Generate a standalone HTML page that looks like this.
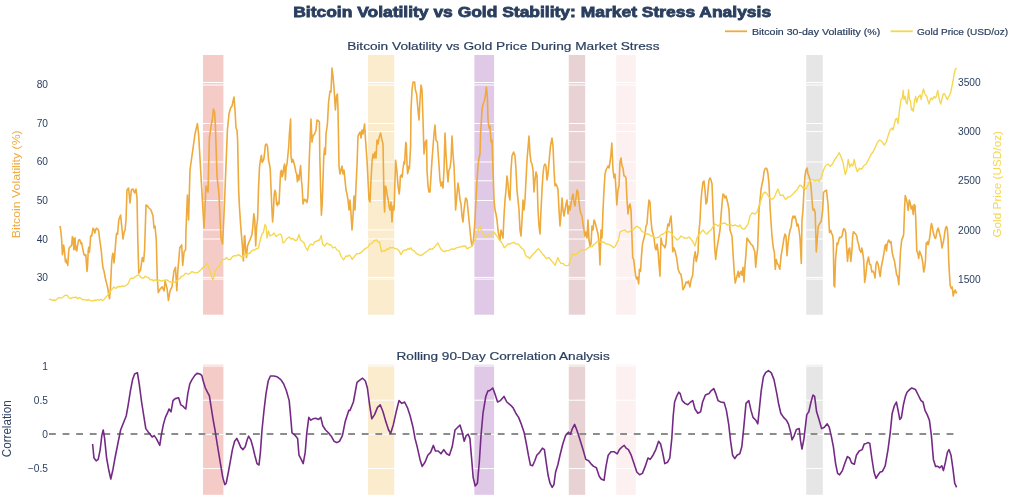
<!DOCTYPE html>
<html><head><meta charset="utf-8"><style>
html,body{margin:0;padding:0;background:#fff;overflow:hidden;}
svg{display:block;will-change:transform;}
</style></head><body>
<svg width="1024" height="500" viewBox="0 0 1024 500">
<rect x="0" y="0" width="1024" height="500" fill="#fff"/>
<rect x="203" y="55" width="20.4" height="259.7" fill="#F5CBC7"/>
<rect x="203" y="364.7" width="20.4" height="130.1" fill="#F5CBC7"/>
<rect x="368.0" y="55" width="26.2" height="259.7" fill="#FBECCD"/>
<rect x="368.0" y="364.7" width="26.2" height="130.1" fill="#FBECCD"/>
<rect x="474.4" y="55" width="19.7" height="259.7" fill="#DFC9E6"/>
<rect x="474.4" y="364.7" width="19.7" height="130.1" fill="#DFC9E6"/>
<rect x="568.8" y="55" width="16.4" height="259.7" fill="#E8D2D3"/>
<rect x="568.8" y="364.7" width="16.4" height="130.1" fill="#E8D2D3"/>
<rect x="616.2" y="55" width="19.6" height="259.7" fill="#FDF0F0"/>
<rect x="616.2" y="364.7" width="19.6" height="130.1" fill="#FDF0F0"/>
<rect x="806.2" y="55" width="16.6" height="259.7" fill="#E6E6E6"/>
<rect x="806.2" y="364.7" width="16.6" height="130.1" fill="#E6E6E6"/>
<line x1="49" x2="957" y1="85.0" y2="85.0" stroke="#fff" stroke-width="1"/>
<line x1="49" x2="957" y1="123.5" y2="123.5" stroke="#fff" stroke-width="1"/>
<line x1="49" x2="957" y1="162.0" y2="162.0" stroke="#fff" stroke-width="1"/>
<line x1="49" x2="957" y1="200.5" y2="200.5" stroke="#fff" stroke-width="1"/>
<line x1="49" x2="957" y1="239.0" y2="239.0" stroke="#fff" stroke-width="1"/>
<line x1="49" x2="957" y1="277.4" y2="277.4" stroke="#fff" stroke-width="1"/>
<line x1="49" x2="957" y1="82.5" y2="82.5" stroke="#fff" stroke-width="1"/>
<line x1="49" x2="957" y1="131.6" y2="131.6" stroke="#fff" stroke-width="1"/>
<line x1="49" x2="957" y1="180.8" y2="180.8" stroke="#fff" stroke-width="1"/>
<line x1="49" x2="957" y1="229.9" y2="229.9" stroke="#fff" stroke-width="1"/>
<line x1="49" x2="957" y1="279.1" y2="279.1" stroke="#fff" stroke-width="1"/>
<line x1="49" x2="957" y1="366" y2="366" stroke="#fff" stroke-width="1"/>
<line x1="49" x2="957" y1="400.2" y2="400.2" stroke="#fff" stroke-width="1"/>
<line x1="49" x2="957" y1="434.4" y2="434.4" stroke="#fff" stroke-width="1"/>
<line x1="49" x2="957" y1="468.6" y2="468.6" stroke="#fff" stroke-width="1"/>
<line x1="49" x2="957" y1="434.1" y2="434.1" stroke="#8c8c8c" stroke-width="2" stroke-dasharray="6.8,6.8"/>
<path d="M60.0,225.8L60.6,229.4L61.6,239.0L62.4,254.6L63.0,251.0L63.6,245.0L64.2,248.6L64.8,254.6L65.4,261.8L66.0,259.4L66.6,263.0L67.2,261.8L67.8,265.4L68.4,254.6L69.0,248.6L69.6,247.4L70.2,246.8L70.8,246.2L71.7,245.0L72.4,236.6L73.2,239.0L73.8,249.8L74.4,239.0L75.0,237.8L75.6,249.8L76.2,246.2L76.8,251.0L77.4,246.2L78.6,240.2L79.6,239.6L80.4,241.4L81.0,243.8L81.6,242.6L82.2,246.2L83.2,251.0L84.0,254.6L85.2,255.8L85.8,254.6L86.4,263.0L87.0,271.4L87.6,265.4L88.2,251.0L88.8,247.4L89.4,252.2L90.0,246.2L90.6,236.6L91.2,235.4L91.8,236.0L92.4,231.8L93.0,228.2L94.0,229.4L94.8,233.0L95.4,230.6L96.4,228.2L97.2,228.8L98.1,229.4L98.8,231.8L99.6,239.0L100.5,245.0L101.4,252.2L102.4,263.0L103.2,269.0L103.8,270.2L105.5,279.0L107.5,286.9L109.5,298.6L110.4,288.8L111.6,263.0L112.2,257.0L112.8,253.4L113.4,254.6L114.0,263.0L114.6,257.0L115.2,248.6L115.8,241.4L116.4,234.2L117.0,233.0L117.6,234.2L118.2,227.0L118.8,219.8L120.6,215.0L121.2,221.0L121.8,227.0L122.4,233.0L123.0,239.0L123.6,235.4L124.2,231.8L125.0,230.6L126.0,220.0L127.0,190.0L128.6,188.0L130.0,203.0L131.4,190.0L133.0,189.0L134.6,193.0L136.0,189.0L137.0,198.0L137.8,240.0L138.8,273.2L140.7,269.3L142.3,257.6L143.6,261.5L144.6,249.8L146.0,205.0L147.4,206.0L149.0,208.0L151.0,210.0L153.0,216.0L154.0,228.0L155.0,226.0L156.3,240.0L157.3,279.0L158.3,292.7L160.2,288.8L162.2,286.9L164.1,290.8L165.1,281.0L167.1,288.8L168.4,300.5L170.0,290.8L172.0,286.9L173.9,271.3L175.5,267.3L176.8,290.8L177.8,271.3L179.8,247.8L181.7,244.9L182.7,265.4L184.1,251.7L185.6,249.8L186.0,230.0L187.4,195.0L188.6,220.0L190.0,170.0L195.0,134.0L197.4,123.6L198.6,134.0L201.0,176.0L204.0,228.0L206.0,186.0L208.0,192.0L209.4,138.0L211.4,124.0L212.6,118.0L213.4,109.0L214.6,112.0L215.4,126.0L217.0,176.0L219.0,194.0L220.0,218.0L221.0,238.0L222.6,244.0L224.0,214.0L225.0,190.0L227.4,130.0L229.0,114.0L230.6,108.0L232.0,106.0L234.0,97.0L235.0,110.0L236.0,128.0L237.0,130.0L237.6,140.0L238.6,189.0L239.5,208.0L240.5,223.0L241.4,234.6L242.4,246.0L243.0,257.5L243.4,261.0L244.3,236.5L244.8,235.6L245.6,250.0L246.5,257.5L247.5,246.0L249.0,242.0L250.0,240.0L250.9,237.5L251.9,234.6L252.8,227.0L253.8,213.7L254.7,219.4L255.7,246.0L256.6,227.0L257.6,219.4L258.5,188.0L259.5,167.2L260.6,159.2L261.4,155.2L262.2,162.4L263.0,160.8L263.8,159.2L264.6,152.8L265.4,144.8L266.5,144.0L267.5,146.4L268.6,160.8L269.4,164.0L270.2,168.8L271.0,188.0L271.8,207.2L272.6,222.0L273.4,212.0L274.2,194.4L275.0,190.4L275.8,192.8L276.6,204.0L277.4,205.6L278.2,202.4L279.0,204.0L279.8,188.0L280.6,172.0L281.4,170.4L282.2,176.8L283.0,173.6L283.8,167.2L284.6,164.0L285.4,180.0L286.2,167.2L287.0,164.0L287.8,156.0L288.6,148.0L289.4,134.0L290.6,119.0L291.0,156.0L291.8,162.4L292.6,159.2L293.4,160.8L294.2,164.0L295.0,167.2L295.8,172.0L296.6,173.6L297.4,181.6L298.2,175.2L299.0,180.0L299.8,172.0L300.6,165.6L301.4,180.0L302.2,188.0L303.0,204.0L303.8,200.8L304.6,199.2L305.4,200.8L306.2,200.0L307.0,202.4L307.8,197.6L308.6,180.0L309.4,156.0L310.0,142.0L311.0,119.0L312.0,142.0L313.0,136.0L314.6,134.0L316.0,130.0L317.0,120.0L318.6,121.0L319.4,122.0L319.8,156.0L320.6,188.0L321.4,215.2L322.2,204.0L323.0,180.0L323.8,156.0L324.6,148.0L325.4,154.4L326.0,134.0L327.4,124.0L328.6,102.0L330.0,91.0L331.0,92.0L332.0,68.0L333.0,76.0L334.0,88.0L335.4,110.0L336.4,96.0L337.4,94.0L338.0,110.0L339.0,166.0L340.0,174.0L341.0,170.0L342.0,166.0L343.0,174.0L344.0,170.0L345.0,180.0L346.0,190.0L347.0,194.0L348.0,200.0L349.0,210.0L350.0,200.0L351.0,214.0L352.0,230.0L353.0,216.0L354.0,196.0L355.0,210.0L356.0,186.0L357.0,166.0L358.0,136.0L359.0,134.0L360.0,132.0L361.0,138.0L362.0,130.0L363.0,134.0L364.6,124.0L365.4,138.0L367.0,160.0L368.0,180.0L369.0,200.0L370.0,202.0L371.0,180.0L372.0,162.0L373.0,154.0L374.0,158.0L375.0,152.0L376.0,158.0L377.0,140.0L378.0,144.0L379.0,138.0L380.6,133.0L382.0,140.0L383.0,144.0L384.0,200.0L384.6,212.0L385.4,186.0L386.2,188.0L387.4,196.0L388.2,200.0L389.0,206.0L390.0,210.0L391.0,202.0L392.0,222.0L393.0,206.0L394.0,210.0L394.4,200.0L395.6,160.4L396.8,170.0L398.0,185.6L399.2,194.0L399.8,188.0L400.4,176.0L401.6,174.8L402.2,177.2L402.8,170.0L404.0,161.6L404.6,164.0L405.2,152.0L405.8,142.4L406.3,144.0L407.0,164.0L407.6,173.6L408.2,171.2L408.8,166.4L409.4,168.8L410.0,158.0L410.6,146.0L411.0,110.0L412.0,90.0L413.0,82.0L414.6,82.0L415.4,90.0L416.6,94.0L418.0,110.0L419.0,120.0L420.0,100.0L421.0,85.0L422.0,90.0L423.0,120.0L424.0,154.0L425.4,142.0L426.6,140.0L427.0,170.0L428.0,186.0L429.0,192.0L430.0,192.0L432.0,160.0L434.0,134.0L435.0,125.0L436.0,140.0L437.4,142.0L440.0,180.0L441.0,186.0L442.0,182.0L443.0,188.0L444.0,170.0L445.0,133.0L446.0,154.0L447.0,170.0L448.0,182.0L449.0,170.0L450.0,168.0L451.0,160.0L452.0,136.0L453.0,154.0L454.0,166.0L455.0,190.0L455.6,210.0L457.0,194.0L458.0,183.0L459.0,190.0L460.0,200.0L461.0,204.0L462.0,216.0L463.0,222.0L464.0,210.0L465.6,198.0L467.0,200.0L468.0,210.0L469.0,220.0L470.0,230.0L471.0,240.0L472.0,246.0L473.0,244.0L474.0,234.0L475.0,220.0L476.0,200.0L477.0,180.0L478.0,166.0L479.0,158.0L480.0,154.0L480.6,134.0L482.0,110.0L483.0,104.0L484.0,102.0L485.0,98.0L486.4,87.0L487.4,98.0L488.0,120.0L489.0,128.0L490.0,126.0L491.0,142.0L492.0,140.0L493.0,170.0L494.0,200.0L495.0,210.0L496.0,214.0L497.0,220.0L498.0,230.0L499.0,236.0L500.0,240.0L501.0,230.0L502.0,234.0L503.0,238.0L504.0,216.0L505.0,200.0L506.0,190.0L507.0,176.0L508.0,184.0L509.0,196.0L510.0,200.0L511.0,170.0L512.0,156.0L513.6,152.0L515.0,156.0L516.0,170.0L517.0,190.0L518.0,200.0L519.0,210.0L520.0,230.0L521.0,236.0L522.0,220.0L523.0,200.0L524.0,210.0L525.0,200.0L526.0,180.0L527.0,160.0L529.0,136.0L530.0,154.0L531.0,162.0L532.0,164.0L533.0,170.0L534.0,192.0L535.0,180.0L536.0,172.0L537.0,176.0L538.0,210.0L539.0,226.0L540.0,234.0L541.0,210.0L542.0,190.0L543.0,174.0L544.0,166.0L545.0,164.0L546.0,166.0L547.0,180.0L548.0,174.0L549.0,162.0L550.5,146.0L552.0,138.0L553.0,146.0L554.0,170.0L555.0,186.0L556.0,184.0L557.0,186.0L558.0,190.0L559.0,210.0L560.0,226.0L561.0,214.0L562.0,198.0L563.0,210.0L564.0,216.0L565.0,210.0L566.0,204.0L567.0,200.0L568.0,214.0L569.0,206.0L570.0,210.0L571.0,204.0L572.0,198.0L573.0,194.0L574.0,202.0L575.0,206.0L576.0,198.0L577.0,190.0L578.0,192.0L579.0,202.0L580.0,210.0L581.0,214.0L582.0,216.0L583.0,224.0L584.0,230.0L585.0,236.0L586.0,232.0L587.0,238.0L588.0,220.0L589.0,240.0L590.0,246.0L591.0,244.0L592.0,226.0L593.0,230.0L594.0,220.0L595.0,222.0L596.0,226.0L597.0,230.0L598.0,234.0L599.0,242.0L600.0,265.0L601.0,230.0L602.0,238.0L603.0,210.0L604.0,190.0L605.0,174.0L606.0,170.0L607.0,168.0L608.0,166.0L609.0,168.0L610.0,162.0L611.0,154.0L611.8,143.0L613.0,170.0L614.0,178.0L615.0,174.0L616.0,190.0L616.8,205.0L618.0,190.0L619.0,186.0L620.0,162.0L621.0,158.0L622.0,166.0L623.0,168.0L624.0,176.0L625.0,176.0L626.0,178.0L627.0,200.0L628.0,214.0L629.0,206.0L630.0,204.0L631.0,210.0L632.7,257.6L633.7,259.5L634.6,267.3L635.6,275.2L636.6,279.0L637.6,277.1L638.6,284.0L639.5,269.3L640.5,271.3L641.5,255.6L642.5,244.0L645.0,234.0L646.0,226.0L647.0,224.0L648.0,210.0L649.0,200.0L650.0,202.0L651.0,220.0L652.0,230.0L653.0,234.0L654.0,238.0L655.2,247.8L656.1,249.8L657.1,244.0L658.1,251.7L659.1,265.4L660.0,276.1L661.0,238.0L662.0,244.0L663.9,245.9L664.9,247.8L665.9,244.0L667.0,230.0L668.0,224.0L669.0,226.0L670.0,220.0L671.0,216.0L672.0,230.0L672.7,251.7L673.7,247.8L674.7,249.8L676.6,257.6L678.2,269.3L679.6,273.2L680.9,274.2L682.1,281.0L682.9,289.8L684.5,286.9L686.0,282.0L687.4,283.0L688.4,281.0L689.9,286.9L691.3,279.0L692.7,275.2L693.8,259.5L695.2,251.7L696.2,261.5L697.1,257.6L698.1,251.7L698.6,236.0L700.0,220.0L701.0,200.0L702.0,190.0L703.0,182.0L704.0,181.0L705.0,190.0L706.0,204.0L707.0,202.0L708.0,190.0L709.0,180.0L710.0,178.0L711.0,180.0L712.0,184.0L713.0,210.0L714.7,247.8L715.7,259.5L716.7,249.8L717.7,244.0L720.0,230.0L721.0,216.0L722.0,204.0L723.0,194.0L724.0,195.0L725.0,198.0L726.0,196.0L727.0,200.0L728.0,204.0L729.0,210.0L730.0,230.0L732.0,236.0L733.3,257.6L734.3,273.2L735.2,283.0L736.2,279.0L737.2,275.2L738.2,271.3L739.1,277.1L740.1,273.2L741.1,271.3L742.1,275.2L743.0,267.3L744.0,282.0L745.0,265.4L746.0,253.7L747.0,238.0L750.9,244.0L752.8,245.9L754.8,251.7L755.7,267.3L756.7,255.6L757.7,247.8L759.0,210.0L760.0,200.0L761.0,190.0L762.0,184.0L763.0,180.0L764.0,172.0L765.0,169.0L766.0,168.0L767.0,169.0L768.0,174.0L769.0,184.0L770.0,206.0L771.0,222.0L772.0,236.0L773.3,247.8L774.3,251.7L775.3,269.3L776.3,259.5L777.2,263.4L778.6,265.4L779.8,269.3L781.1,255.6L782.1,249.8L784.0,238.0L785.0,234.0L786.0,236.0L787.0,255.6L788.0,244.0L789.0,236.0L790.0,230.0L791.0,228.0L792.0,220.0L793.0,216.0L794.0,218.0L795.0,216.0L796.0,220.0L797.0,226.0L798.0,224.0L799.0,230.0L800.0,238.0L801.3,263.4L802.0,220.0L803.0,210.0L804.0,190.0L805.0,176.0L806.0,170.0L807.0,168.0L808.0,174.0L809.0,176.0L810.7,183.5L811.5,192.5L812.2,202.5L813.0,210.0L814.2,209.2L815.2,213.0L816.3,252.0L817.2,240.0L818.2,226.5L819.7,223.5L821.2,221.2L822.7,210.0L823.5,192.5L825.0,191.0L826.5,190.2L827.2,197.0L828.0,204.0L828.7,217.5L829.5,232.5L830.2,230.2L831.0,231.0L831.7,234.0L832.5,234.7L833.2,240.0L834.0,285.5L834.7,287.0L835.5,260.0L836.2,252.5L837.0,243.0L837.7,244.5L838.5,241.5L839.2,238.5L840.0,237.0L840.7,237.7L841.5,237.0L842.2,235.5L843.0,231.0L843.7,228.7L844.8,229.5L845.7,232.5L847.5,261.5L848.7,249.5L849.7,248.0L850.8,261.5L852.0,249.5L852.7,235.5L853.5,231.7L854.7,233.2L855.7,234.0L856.8,236.2L857.7,241.5L858.7,244.5L859.5,249.5L861.0,252.5L861.7,248.0L862.5,251.0L863.7,260.0L864.7,282.5L865.8,275.0L867.0,263.0L868.5,257.0L869.7,264.5L870.7,264.5L871.8,272.0L873.0,271.2L874.2,273.5L875.0,278.0L876.0,264.5L877.0,261.5L878.2,264.5L879.3,272.0L880.2,276.5L881.2,267.5L882.7,260.0L883.8,254.0L885.0,246.0L885.7,244.5L886.5,251.0L887.2,244.5L888.0,241.5L888.7,240.0L889.5,241.5L890.2,243.0L891.0,241.5L892.2,252.5L893.2,257.0L894.3,260.0L895.5,267.5L896.7,275.0L897.7,276.5L898.8,284.7L899.7,267.5L900.4,252.5L901.5,241.5L902.2,238.5L903.0,237.0L903.7,234.0L904.5,210.0L905.2,195.5L906.0,198.0L907.2,203.0L908.2,210.5L909.3,200.0L910.2,203.0L911.2,209.0L912.3,206.0L913.2,214.5L914.2,204.5L915.0,205.5L915.7,217.5L916.8,251.0L918.0,254.0L918.7,258.5L919.5,251.0L920.7,254.0L921.7,257.0L922.8,263.0L923.7,272.0L924.7,267.5L925.5,260.0L926.2,243.0L927.0,244.5L927.7,241.5L928.5,244.5L929.2,240.0L930.0,235.5L930.7,228.0L931.5,223.5L932.2,226.5L933.0,231.0L933.7,234.0L934.5,237.0L935.2,238.5L936.0,237.0L936.7,232.5L937.5,229.5L938.2,228.0L939.0,231.0L939.7,234.0L940.5,237.0L941.2,241.5L942.0,248.0L942.7,244.5L943.5,241.5L944.2,237.0L945.0,231.0L945.7,228.0L946.5,226.5L947.2,228.0L948.0,237.0L948.7,260.0L949.5,275.0L950.2,285.5L951.3,288.5L952.2,287.0L953.2,296.0L954.3,291.5L955.2,290.0L956.2,293.0L956.7,291.5" fill="none" stroke="#EEAA3C" stroke-width="1.6" stroke-linejoin="round"/>
<path d="M48.9,299.6L50.4,299.2L51.8,300.2L53.3,300.0L54.8,300.5L56.8,299.3L58.7,297.6L60.7,297.9L62.6,297.6L64.2,295.9L65.9,295.2L67.5,295.7L69.0,298.0L70.4,298.6L72.3,297.5L74.3,297.6L75.9,297.0L77.6,298.8L79.2,297.6L80.8,298.2L82.5,299.7L84.1,299.6L85.5,299.8L87.0,300.4L88.5,299.4L89.9,300.5L91.5,300.6L93.0,301.0L94.6,300.0L96.1,300.4L97.7,299.6L99.3,300.3L101.0,299.2L102.6,300.5L104.0,299.7L105.5,297.6L107.5,295.4L109.5,292.7L111.0,290.3L112.4,288.8L114.0,287.0L115.7,288.4L117.3,286.9L118.9,286.5L120.5,286.8L122.1,285.9L123.7,286.5L125.4,285.7L127.0,284.9L128.5,283.0L130.0,279.0L131.6,278.1L133.2,278.5L134.8,277.1L136.6,275.8L138.4,274.8L140.7,277.1L142.2,278.1L143.6,278.0L145.1,276.1L146.6,277.1L148.6,277.7L150.5,280.0L151.9,279.3L153.4,281.1L154.9,279.8L156.3,280.0L157.8,280.6L159.2,280.0L160.7,280.8L162.2,281.0L163.8,280.4L165.5,280.0L167.1,280.0L168.6,281.2L170.0,282.0L171.9,282.2L173.9,282.0L175.9,282.0L177.8,280.0L179.8,278.5L181.7,276.1L183.6,275.7L185.6,273.2L187.2,273.9L188.7,274.0L190.3,273.0L191.8,271.6L193.4,272.2L194.9,272.8L196.4,272.9L197.8,272.5L199.3,271.3L201.2,269.5L203.2,267.3L205.1,265.9L207.1,263.4L208.6,266.7L210.0,271.3L211.5,276.4L213.0,280.0L214.4,274.8L215.9,269.3L217.9,266.8L219.8,265.4L221.2,261.4L222.7,259.5L224.6,259.4L226.6,257.6L228.6,259.7L230.5,259.5L232.5,256.6L234.5,255.6L236.4,255.8L238.4,254.6L240.4,255.9L242.3,257.6L245.0,253.7L246.7,255.6L248.3,253.5L250.0,253.0L251.5,251.0L253.0,250.0L254.5,250.1L256.0,249.0L258.5,248.0L260.0,241.0L262.0,234.0L263.5,232.0L265.0,224.5L266.0,226.0L267.0,238.0L268.5,231.0L270.0,236.0L272.0,235.0L274.0,233.0L276.0,236.5L278.0,235.0L280.0,234.0L281.5,235.0L283.0,243.0L284.5,242.0L286.5,239.0L289.0,237.0L291.0,239.0L293.0,238.5L295.0,240.5L297.0,240.0L299.0,234.5L300.5,240.0L302.0,241.0L304.0,243.0L305.5,247.0L307.5,250.5L309.0,246.0L311.0,244.0L313.0,245.0L314.5,242.0L317.0,241.0L319.5,240.0L321.2,235.5L322.5,244.0L324.5,246.0L327.0,243.0L329.0,244.5L331.0,245.0L333.0,248.0L335.0,247.0L337.0,250.0L339.0,251.0L341.0,256.0L343.5,260.0L346.0,256.0L347.5,256.4L349.0,255.0L350.6,256.2L352.2,259.5L353.6,257.8L355.1,255.6L357.1,253.6L359.0,253.7L360.9,252.7L362.9,250.7L364.9,248.8L366.8,247.8L368.3,246.8L369.8,243.9L371.8,243.6L373.7,241.0L375.1,240.5L376.6,240.0L378.1,242.2L379.5,242.0L381.5,251.7L383.4,250.7L385.4,250.7L386.9,249.0L388.4,249.5L389.8,247.4L391.3,247.8L392.8,247.3L394.2,248.1L395.7,248.8L397.1,248.8L399.1,250.9L401.0,254.6L402.9,251.1L404.9,249.8L406.4,250.2L407.9,248.4L409.3,249.4L410.8,247.8L412.2,250.2L413.7,250.5L415.2,252.1L416.6,253.7L418.6,254.7L420.5,255.6L422.0,255.0L423.4,253.9L424.9,252.8L426.4,251.7L428.2,250.5L430.0,248.8L431.9,249.4L433.9,247.8L435.9,245.4L437.8,242.9L439.2,245.7L440.7,248.8L442.6,250.8L444.6,251.7L446.6,250.6L448.6,250.7L450.6,249.3L452.5,248.8L454.4,249.4L456.4,247.8L458.4,247.4L460.3,246.8L462.2,246.5L464.2,245.9L465.6,246.2L467.1,248.8L469.1,247.6L471.0,246.8L473.0,243.9L475.0,240.1L477.0,236.0L478.5,229.8L480.0,226.0L482.0,232.0L483.5,234.3L485.0,236.0L486.7,236.3L488.3,234.9L490.0,236.0L492.0,234.3L494.0,232.0L496.0,234.9L498.0,238.0L499.6,240.4L501.3,242.0L502.8,244.5L504.2,247.8L506.1,246.3L508.1,243.9L510.1,244.0L512.0,242.9L514.0,242.3L515.9,243.9L517.8,243.8L519.8,245.9L521.8,248.3L523.8,249.8L525.2,254.3L526.7,256.6L528.2,257.0L529.6,258.6L531.5,256.0L533.5,253.7L535.1,252.3L536.8,250.0L538.4,248.8L540.3,250.9L542.3,253.7L544.2,255.7L546.2,258.6L547.7,257.8L549.1,257.6L550.6,259.8L552.1,261.5L553.5,263.0L555.0,265.4L556.5,261.2L557.9,257.6L559.4,261.2L560.9,263.4L562.8,263.3L564.8,265.4L566.8,265.6L568.7,265.4L570.6,259.5L572.6,253.7L574.5,254.7L576.5,254.6L578.5,252.2L580.4,250.7L582.3,249.6L584.3,249.8L586.2,249.5L588.2,247.8L590.2,246.7L592.1,246.8L593.5,244.6L595.0,243.9L596.5,242.3L598.0,241.0L600.0,242.0L601.9,242.0L603.8,242.0L605.8,243.9L607.8,244.0L609.7,244.9L611.7,246.0L613.6,247.8L615.0,246.7L616.5,243.9L618.5,240.0L620.0,232.0L622.0,230.9L624.0,230.0L625.0,230.0L627.0,231.9L629.0,232.0L631.0,230.2L633.0,230.0L635.0,227.6L637.0,226.0L638.5,227.4L640.0,228.0L641.5,230.9L643.0,232.0L645.0,232.9L647.0,234.0L649.0,234.3L651.0,236.0L653.0,236.1L655.0,238.0L657.0,237.6L659.0,237.0L661.0,234.8L663.0,234.0L665.0,232.7L667.0,230.0L668.5,231.8L670.0,232.0L671.5,233.2L673.0,236.0L675.0,237.5L677.0,240.0L679.0,238.7L681.0,236.0L683.0,237.3L685.0,238.0L687.0,238.2L689.0,237.0L691.0,239.1L693.0,242.0L695.0,246.0L697.0,238.0L698.5,235.1L700.0,234.0L701.5,231.5L703.0,230.0L705.0,232.7L707.0,234.0L709.0,231.5L711.0,230.0L713.0,226.6L715.0,224.0L716.5,224.8L718.0,226.0L719.5,224.8L721.0,224.0L723.0,223.3L725.0,223.0L727.0,225.0L729.0,225.0L731.0,224.7L733.0,226.0L735.0,224.8L737.0,226.0L738.5,226.6L740.0,225.0L741.5,227.9L743.0,229.0L744.5,229.2L746.0,227.0L748.0,224.0L750.0,216.0L752.0,213.0L753.5,213.3L755.0,214.0L757.0,212.0L759.0,206.0L761.0,200.0L763.0,194.0L765.0,192.0L767.0,194.0L769.0,197.0L770.5,199.1L772.0,199.0L773.5,198.5L775.0,196.0L776.5,191.8L778.0,189.0L780.0,195.0L781.5,195.6L783.0,195.0L785.0,199.0L786.5,198.8L788.0,197.0L789.5,196.9L791.0,196.0L792.5,194.5L794.0,193.0L795.5,191.0L797.0,190.0L798.5,187.1L800.0,185.0L801.5,185.8L803.0,188.0L804.5,187.5L806.0,189.0L808.0,185.0L810.0,180.5L811.5,179.6L813.0,179.7L814.5,180.8L816.0,180.5L817.5,179.8L819.0,181.2L821.2,177.5L823.5,170.0L825.7,165.5L828.0,164.0L830.2,166.2L832.5,164.0L834.7,159.5L837.0,156.5L839.2,152.7L841.5,158.0L843.0,162.5L845.2,174.5L846.7,170.0L848.2,159.5L849.7,167.0L851.2,164.0L852.7,166.2L854.2,159.5L855.7,167.0L857.2,171.5L859.5,168.5L861.7,169.2L864.0,165.5L866.2,164.0L868.5,159.5L870.7,155.0L873.0,152.0L875.2,147.5L877.5,142.2L879.7,140.0L882.0,141.5L884.2,145.2L886.5,141.5L888.0,136.0L890.0,130.0L892.0,128.0L893.0,130.0L894.2,125.0L895.7,119.0L896.8,118.2L898.0,123.5L899.5,110.0L901.0,99.5L902.2,98.0L903.2,90.5L904.0,99.5L905.2,96.5L906.2,102.5L907.3,104.0L908.5,89.7L909.5,99.5L910.4,101.0L911.5,110.0L912.2,108.5L913.3,111.5L914.5,101.0L915.7,96.5L916.7,102.5L917.8,98.0L919.0,96.5L920.2,95.0L921.2,99.5L922.3,93.5L923.5,89.0L924.7,93.5L925.7,95.0L926.8,96.5L928.0,101.0L929.2,104.0L930.2,99.5L931.3,98.0L932.5,99.5L934.0,96.5L935.5,98.0L936.7,95.0L937.7,90.5L938.5,95.0L939.7,101.0L940.7,104.0L941.8,99.5L943.0,95.0L944.2,93.5L945.2,95.0L946.3,98.0L947.5,99.5L948.7,96.5L949.7,95.0L950.8,92.0L952.0,86.0L953.2,80.0L954.2,74.0L955.3,69.5L956.5,68.0" fill="none" stroke="#F5D64C" stroke-width="1.35" stroke-linejoin="round"/>
<path d="M92.6,444.0L94.0,458.0L96.2,460.8L98.2,459.4L100.2,449.6L101.8,435.6L103.2,430.0L104.6,438.4L106.6,458.0L108.6,469.2L110.8,479.0L113.0,469.2L115.0,458.0L117.8,444.0L120.6,430.0L123.4,423.0L126.2,416.0L128.2,404.8L130.4,390.8L132.6,379.6L134.6,374.0L137.4,372.6L139.4,385.2L141.6,402.0L143.8,416.0L145.8,428.6L147.8,431.4L150.0,434.2L152.2,437.0L154.2,435.6L156.2,438.4L158.4,442.6L159.8,445.4L161.2,435.6L163.4,424.4L165.4,417.4L167.4,413.2L169.0,409.0L171.0,411.8L173.0,400.6L175.2,398.6L178.6,397.8L180.8,404.8L183.0,406.2L184.2,407.6L185.8,409.0L187.8,393.6L189.8,383.8L192.0,379.6L194.8,375.4L197.0,373.4L199.9,374.0L201.8,375.4L203.2,381.0L205.4,388.0L207.4,392.2L209.4,395.8L211.0,406.2L213.0,418.8L215.0,430.0L217.2,444.0L220.0,460.8L222.8,477.6L224.8,484.6L226.2,483.2L228.4,472.0L230.4,460.8L232.4,449.6L234.6,441.2L236.8,438.4L238.8,442.6L240.8,447.4L243.0,449.6L245.2,446.8L247.2,439.8L248.6,436.2L250.8,439.8L252.8,446.8L254.8,455.2L257.0,463.6L259.0,465.0L260.4,452.4L262.0,430.0L264.0,410.4L266.0,393.6L268.2,381.0L270.4,376.0L273.8,376.0L277.2,376.8L280.8,379.6L283.6,383.8L286.4,390.8L289.2,400.6L290.6,416.0L292.0,432.8L294.8,435.0L297.6,438.4L299.0,455.2L301.2,459.4L303.2,463.6L305.2,452.4L306.8,432.8L308.8,417.4L310.8,420.2L313.0,418.8L315.8,418.2L318.6,419.4L320.8,417.4L322.8,425.8L325.6,430.0L328.4,432.8L331.2,436.2L334.0,441.2L336.8,442.6L339.6,441.2L342.4,435.6L345.2,421.6L348.8,410.4L350.0,410.4L353.4,402.0L357.0,382.4L359.8,380.2L362.6,378.2L365.4,381.0L367.4,388.0L369.6,404.8L371.8,418.8L374.6,414.6L377.4,407.6L380.2,404.8L383.0,411.8L385.8,421.6L388.6,430.0L390.6,433.4L393.4,424.4L396.2,411.8L399.0,400.6L401.8,403.4L404.6,402.0L407.4,407.6L410.2,416.0L413.0,427.2L415.0,438.4L417.2,446.8L420.0,459.4L422.2,466.4L425.0,462.2L427.8,455.2L430.6,452.4L433.4,445.4L435.4,451.0L438.2,451.0L441.0,453.8L443.8,449.6L446.6,453.8L449.4,455.2L452.2,446.8L455.0,430.0L457.8,427.2L460.0,425.0L462.0,431.4L464.2,441.2L466.2,435.6L468.2,434.2L469.9,438.4L471.8,460.8L473.2,477.6L475.2,486.0L477.4,483.2L479.4,460.8L481.0,435.6L483.0,413.2L485.8,396.4L488.0,390.8L489.2,390.8L491.2,389.4L492.8,388.0L494.8,393.6L497.6,402.0L500.4,400.6L504.0,396.4L506.8,402.0L510.2,404.8L513.0,407.6L515.8,413.2L518.6,417.4L521.4,424.4L524.2,432.8L526.4,444.0L528.4,455.2L530.4,465.0L532.6,465.8L534.8,460.8L536.8,455.2L539.6,452.4L542.4,448.2L544.4,449.6L546.0,460.8L548.0,474.8L550.0,483.2L552.2,487.4L553.9,484.6L555.6,472.0L557.8,465.0L560.0,455.2L562.8,444.0L565.6,435.6L568.4,432.2L570.4,434.2L572.4,428.6L574.6,424.4L576.8,430.0L579.6,438.4L583.0,449.6L585.8,459.4L588.6,460.8L590.8,463.6L593.6,466.4L596.4,467.8L599.2,476.2L601.2,479.0L604.0,480.4L606.0,466.4L608.2,455.2L611.0,451.8L614.4,451.8L617.2,453.8L619.4,449.6L622.2,446.8L624.2,445.4L626.2,448.2L628.4,449.6L631.2,455.2L634.0,463.6L636.8,472.0L639.6,474.8L642.4,473.4L645.2,466.4L648.0,458.0L650.2,459.4L653.0,455.2L655.8,449.6L658.6,441.2L660.6,444.0L662.6,452.4L664.8,463.6L667.6,462.2L669.8,458.0L671.8,438.4L673.2,416.0L674.6,402.0L676.6,396.4L678.8,392.2L680.2,393.6L682.2,400.6L685.0,403.4L687.8,404.8L690.6,402.0L692.8,400.6L695.0,409.0L697.8,413.2L700.6,411.8L702.6,402.0L705.4,395.0L709.0,393.6L711.0,390.8L713.8,388.6L715.8,393.6L718.0,400.6L720.8,402.0L724.2,402.6L726.4,410.4L728.7,424.4L730.6,441.2L732.6,455.2L734.8,458.6L737.0,455.2L739.8,453.8L741.8,446.8L743.8,427.2L746.0,403.4L748.8,400.6L751.0,410.4L753.0,417.4L755.8,420.2L757.8,423.8L759.2,410.4L761.2,390.8L763.4,376.8L765.6,372.6L768.4,370.6L771.2,372.6L774.0,379.6L776.8,393.6L778.8,404.8L780.8,413.2L783.6,417.4L786.4,420.2L788.6,424.4L790.8,432.8L792.0,439.8L794.2,435.6L796.4,429.4L799.2,428.6L800.6,441.2L802.0,449.0L804.0,438.4L806.8,414.6L808.8,411.8L811.0,402.0L813.0,395.0L814.6,396.4L816.6,411.8L818.8,418.8L821.6,428.6L824.4,427.2L827.2,423.8L829.2,427.2L831.2,435.6L833.4,446.8L835.6,463.6L837.6,473.4L839.6,474.8L842.4,470.6L845.2,462.2L847.4,456.6L849.6,458.0L851.6,463.0L854.4,464.2L856.4,455.2L859.2,451.0L862.2,449.6L864.2,444.0L866.2,443.4L867.8,442.6L869.8,443.4L871.8,458.0L874.0,472.0L876.0,478.2L878.2,474.8L880.2,472.0L882.4,471.4L885.2,465.8L888.0,449.6L890.2,432.8L892.2,413.2L894.2,406.2L896.4,402.0L898.1,410.4L899.8,419.4L901.4,417.4L903.4,404.8L905.4,396.4L907.0,392.2L909.8,389.4L911.8,388.0L915.4,389.4L918.2,395.0L921.0,400.6L923.0,402.0L925.0,410.4L927.2,414.6L929.4,420.2L931.4,435.6L933.4,459.4L935.6,466.4L937.8,466.4L939.8,467.8L941.8,465.8L943.4,470.6L945.4,462.2L947.4,452.4L949.0,449.6L951.0,455.2L953.0,469.2L954.7,483.2L956.6,487.4" fill="none" stroke="#742A85" stroke-width="1.6" stroke-linejoin="round"/>
<text x="293.2" y="16.8" font-family="Liberation Sans, sans-serif" font-size="15" fill="#2a3f5f" text-anchor="start" font-weight="bold" textLength="477.9" lengthAdjust="spacingAndGlyphs" stroke="#2a3f5f" stroke-width="0.8">Bitcoin Volatility vs Gold Stability: Market Stress Analysis</text>
<text x="347.2" y="49.8" font-family="Liberation Sans, sans-serif" font-size="11.3" fill="#2a3f5f" text-anchor="start" textLength="312.3" lengthAdjust="spacingAndGlyphs" stroke="#2a3f5f" stroke-width="0.2">Bitcoin Volatility vs Gold Price During Market Stress</text>
<text x="396.5" y="359.6" font-family="Liberation Sans, sans-serif" font-size="11.3" fill="#2a3f5f" text-anchor="start" textLength="213.2" lengthAdjust="spacingAndGlyphs" stroke="#2a3f5f" stroke-width="0.2">Rolling 90-Day Correlation Analysis</text>
<line x1="725" x2="747" y1="31.3" y2="31.3" stroke="#EEAA3C" stroke-width="1.8"/>
<text x="751.9" y="34.8" font-family="Liberation Sans, sans-serif" font-size="9.1" fill="#2a3f5f" text-anchor="start" textLength="128.4" lengthAdjust="spacingAndGlyphs" stroke="#2a3f5f" stroke-width="0.2">Bitcoin 30-day Volatility (%)</text>
<line x1="890.5" x2="912.8" y1="31.3" y2="31.3" stroke="#F5D64C" stroke-width="1.8"/>
<text x="917" y="34.8" font-family="Liberation Sans, sans-serif" font-size="9.1" fill="#2a3f5f" text-anchor="start" textLength="91.1" lengthAdjust="spacingAndGlyphs" stroke="#2a3f5f" stroke-width="0.2">Gold Price (USD/oz)</text>
<text x="48" y="88.0" font-family="Liberation Sans, sans-serif" font-size="10.2" fill="#2a3f5f" text-anchor="end" stroke="none">80</text>
<text x="48" y="126.7" font-family="Liberation Sans, sans-serif" font-size="10.2" fill="#2a3f5f" text-anchor="end" stroke="none">70</text>
<text x="48" y="165.3" font-family="Liberation Sans, sans-serif" font-size="10.2" fill="#2a3f5f" text-anchor="end" stroke="none">60</text>
<text x="48" y="204.0" font-family="Liberation Sans, sans-serif" font-size="10.2" fill="#2a3f5f" text-anchor="end" stroke="none">50</text>
<text x="48" y="242.7" font-family="Liberation Sans, sans-serif" font-size="10.2" fill="#2a3f5f" text-anchor="end" stroke="none">40</text>
<text x="48" y="281.4" font-family="Liberation Sans, sans-serif" font-size="10.2" fill="#2a3f5f" text-anchor="end" stroke="none">30</text>
<text x="958" y="85.9" font-family="Liberation Sans, sans-serif" font-size="10.2" fill="#2a3f5f" text-anchor="start" stroke="none">3500</text>
<text x="958" y="135.1" font-family="Liberation Sans, sans-serif" font-size="10.2" fill="#2a3f5f" text-anchor="start" stroke="none">3000</text>
<text x="958" y="184.3" font-family="Liberation Sans, sans-serif" font-size="10.2" fill="#2a3f5f" text-anchor="start" stroke="none">2500</text>
<text x="958" y="233.5" font-family="Liberation Sans, sans-serif" font-size="10.2" fill="#2a3f5f" text-anchor="start" stroke="none">2000</text>
<text x="958" y="282.7" font-family="Liberation Sans, sans-serif" font-size="10.2" fill="#2a3f5f" text-anchor="start" stroke="none">1500</text>
<text x="48" y="369.6" font-family="Liberation Sans, sans-serif" font-size="10.2" fill="#2a3f5f" text-anchor="end" stroke="none">1</text>
<text x="48" y="403.8" font-family="Liberation Sans, sans-serif" font-size="10.2" fill="#2a3f5f" text-anchor="end" stroke="none">0.5</text>
<text x="48" y="438.0" font-family="Liberation Sans, sans-serif" font-size="10.2" fill="#2a3f5f" text-anchor="end" stroke="none">0</text>
<text x="48" y="472.2" font-family="Liberation Sans, sans-serif" font-size="10.2" fill="#2a3f5f" text-anchor="end" stroke="none">−0.5</text>
<text transform="translate(20.4,184.3) rotate(-90)" font-family="Liberation Sans, sans-serif" font-size="10.6" fill="#EEAA3C" text-anchor="middle" textLength="108" lengthAdjust="spacingAndGlyphs">Bitcoin Volatility (%)</text>
<text transform="translate(1000.8,184.3) rotate(-90)" font-family="Liberation Sans, sans-serif" font-size="10.6" fill="#F5D64C" text-anchor="middle" textLength="106.6" lengthAdjust="spacingAndGlyphs">Gold Price (USD/oz)</text>
<text transform="translate(11,428.8) rotate(-90)" font-family="Liberation Sans, sans-serif" font-size="12.5" fill="#2a3f5f" text-anchor="middle" textLength="56.8" lengthAdjust="spacingAndGlyphs">Correlation</text>
</svg>
</body></html>
